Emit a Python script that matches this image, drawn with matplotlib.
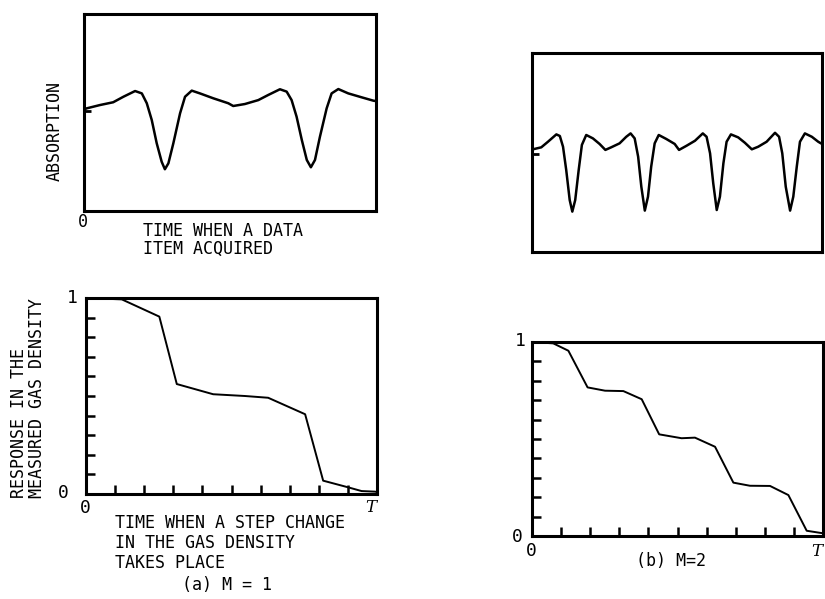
import matplotlib
matplotlib.use('Agg')
import matplotlib.pyplot as plt

# absorption traces (time and level both scaled to 0..1)
abs_a_t = [0.0, 0.009, 0.055, 0.100, 0.135, 0.175, 0.198, 0.215, 0.232, 0.249, 0.266, 0.277, 0.289,
           0.306, 0.329, 0.346, 0.369, 0.397, 0.443, 0.494, 0.511, 0.551, 0.597, 0.631, 0.671, 0.694,
           0.711, 0.728, 0.746, 0.763, 0.777, 0.791, 0.808, 0.831, 0.848, 0.871, 0.905, 0.951, 0.991, 1.0]
abs_a_v = [0.515, 0.521, 0.538, 0.552, 0.580, 0.609, 0.597, 0.547, 0.462, 0.344, 0.250, 0.212, 0.242,
           0.344, 0.496, 0.580, 0.611, 0.597, 0.572, 0.547, 0.533, 0.543, 0.563, 0.589, 0.618, 0.606,
           0.563, 0.479, 0.360, 0.259, 0.222, 0.259, 0.377, 0.521, 0.597, 0.619, 0.597, 0.577, 0.560, 0.558]

abs_b_t = [0.003, 0.032, 0.055, 0.084, 0.096, 0.107, 0.118, 0.130, 0.139, 0.149, 0.161, 0.172, 0.187,
           0.210, 0.233, 0.253, 0.273, 0.302, 0.325, 0.340, 0.354, 0.366, 0.377, 0.389, 0.400, 0.411,
           0.423, 0.437, 0.463, 0.492, 0.507, 0.533, 0.562, 0.589, 0.602, 0.614, 0.625, 0.637, 0.648,
           0.660, 0.671, 0.686, 0.711, 0.734, 0.758, 0.780, 0.809, 0.838, 0.852, 0.863, 0.875, 0.890,
           0.901, 0.913, 0.924, 0.941, 0.965, 0.987, 1.0]
abs_b_v = [0.516, 0.526, 0.554, 0.591, 0.583, 0.529, 0.412, 0.261, 0.203, 0.261, 0.412, 0.538, 0.588,
           0.571, 0.543, 0.513, 0.526, 0.546, 0.579, 0.596, 0.571, 0.479, 0.328, 0.208, 0.278, 0.429,
           0.546, 0.588, 0.568, 0.543, 0.513, 0.534, 0.559, 0.596, 0.579, 0.496, 0.345, 0.211, 0.278,
           0.446, 0.554, 0.591, 0.576, 0.549, 0.516, 0.529, 0.554, 0.599, 0.579, 0.496, 0.328, 0.208,
           0.278, 0.429, 0.554, 0.596, 0.579, 0.554, 0.543]

# level of the little reference dash on the left edge
ref_a = 0.51
ref_b = 0.49

# step responses (time in units of T)
resp_a_t = [0.0, 0.123, 0.252, 0.312, 0.437, 0.546, 0.626, 0.753, 0.815, 0.901, 0.947, 0.993, 1.0]
resp_a_v = [1.0, 0.993, 0.905, 0.561, 0.509, 0.500, 0.491, 0.407, 0.068, 0.034, 0.015, 0.012, 0.010]

resp_b_t = [0.0, 0.073, 0.125, 0.191, 0.251, 0.314, 0.377, 0.437, 0.514, 0.560, 0.629, 0.692,
            0.749, 0.818, 0.881, 0.944, 1.0]
resp_b_v = [1.0, 0.993, 0.955, 0.766, 0.749, 0.747, 0.705, 0.524, 0.504, 0.507, 0.460, 0.275,
            0.259, 0.258, 0.211, 0.027, 0.014]

grid_ticks = [0.1, 0.2, 0.3, 0.4, 0.5, 0.6, 0.7, 0.8, 0.9]

W, H = 825, 599
fig = plt.figure(figsize=(W / 100, H / 100), dpi=100)
FONT = 'DejaVu Sans Mono'


def box(x0, y0, x1, y1):
    # pixel box (top-left origin) -> axes
    return fig.add_axes([x0 / W, 1 - y1 / H, (x1 - x0) / W, (y1 - y0) / H])


def txt(x, y, s, **kw):
    kw.setdefault('ha', 'center')
    kw.setdefault('va', 'center')
    kw.setdefault('family', FONT)
    kw.setdefault('fontsize', 12)
    fig.text(x / W, 1 - y / H, s, **kw)


def frame(ax):
    ax.set_xlim(0, 1)
    ax.set_ylim(0, 1)
    for sp in ax.spines.values():
        sp.set_linewidth(2.2)
    ax.tick_params(labelbottom=False, labelleft=False)


ax1 = box(84, 14, 376, 211)
frame(ax1)
ax1.plot(abs_a_t, abs_a_v, color='black', lw=1.8, solid_joinstyle='round')
ax1.set_xticks([])
ax1.set_yticks([ref_a])
ax1.tick_params(axis='y', direction='in', length=5, width=2)

ax2 = box(532, 53, 822, 252)
frame(ax2)
ax2.plot(abs_b_t, abs_b_v, color='black', lw=1.8, solid_joinstyle='round')
ax2.set_xticks([])
ax2.set_yticks([ref_b])
ax2.tick_params(axis='y', direction='in', length=5, width=2)

ax3 = box(86, 298, 377, 494)
frame(ax3)
ax3.plot(resp_a_t, resp_a_v, color='black', lw=1.4)

ax4 = box(532, 342, 823, 536)
frame(ax4)
ax4.plot(resp_b_t, resp_b_v, color='black', lw=1.4)

for ax in (ax3, ax4):
    ax.set_xticks(grid_ticks)
    ax.set_yticks(grid_ticks)
    ax.tick_params(direction='in', length=6.5, width=1.8)

# panel (a) texts
txt(55, 131, 'ABSORPTION', rotation=90)
txt(83, 222, '0')
txt(143, 240, 'TIME WHEN A DATA\nITEM ACQUIRED', ha='left', ma='left', linespacing=0.97)

txt(19, 498, 'RESPONSE IN THE', rotation=90, va='bottom')
txt(37, 498, 'MEASURED GAS DENSITY', rotation=90, va='bottom')
txt(72, 298, '1', fontsize=13)
txt(63, 493, '0', fontsize=13)
txt(85, 508, '0', fontsize=13)
txt(371, 507, 'T', family='DejaVu Serif', style='italic', fontsize=12)
txt(115, 543, 'TIME WHEN A STEP CHANGE\nIN THE GAS DENSITY\nTAKES PLACE',
    ha='left', ma='left', linespacing=1.15)
txt(227, 585, '(a) M = 1')

# panel (b) texts
txt(520, 341, '1', fontsize=13)
txt(517, 537, '0', fontsize=13)
txt(531, 551, '0', fontsize=13)
txt(817, 552, 'T', family='DejaVu Serif', style='italic', fontsize=12)
txt(671, 561, '(b) M=2')

fig.savefig('out.png', dpi=100)
